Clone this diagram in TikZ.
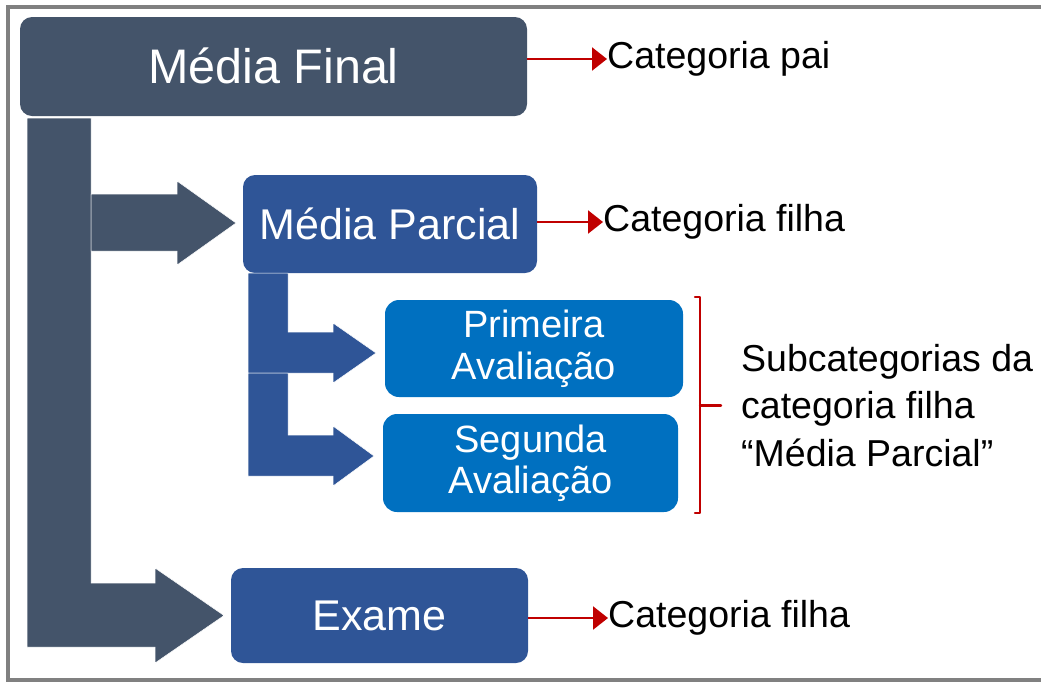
\documentclass[tikz,border=0pt]{standalone}
\usepackage{fontspec}
\setmainfont{Liberation Sans}
\usetikzlibrary{arrows.meta}
\definecolor{slate}{HTML}{44546A}
\definecolor{navy}{HTML}{2F5597}
\definecolor{sky}{HTML}{0070C0}
\definecolor{redc}{HTML}{C00000}
\definecolor{framegray}{HTML}{808080}
\tikzset{
  box/.style={rounded corners=12pt, text=white, inner sep=0pt, align=center},
  blockarrow/.style={draw=white, line width=0.5pt},
  redarr/.style={draw=redc, line width=2.4pt, -{Triangle[length=15pt,width=23pt]}},
  redline/.style={draw=redc, line width=2.4pt, line cap=round, line join=round},
  lbl/.style={inner sep=0pt, anchor=west, text=black, font=\fontsize{37.5}{47.5}\selectfont},
}
\begin{document}
\begin{tikzpicture}[x=1pt,y=-1pt]
\useasboundingbox (0,0) rectangle (1041,681);
% frame
\draw[framegray, line width=4pt] (1045,7) -- (8,7) -- (8,680) -- (1045,680);

% boxes
\node[box, fill=slate, minimum width=507pt, minimum height=99pt, font=\fontsize{48.5}{52}\selectfont] (mf) at (273.5,66.5) {\raisebox{2pt}{Média Final}};
\node[box, fill=navy, minimum width=294pt, minimum height=98pt, font=\fontsize{43}{46}\selectfont] (mp) at (390,224) {\raisebox{1pt}{Média Parcial}};
\node[box, fill=sky, rounded corners=14pt, minimum width=298pt, minimum height=97pt, font=\fontsize{38}{41.5}\selectfont] (pa) at (534,348.5) {Primeira\\Avaliação};
\node[box, fill=sky, rounded corners=14pt, minimum width=295pt, minimum height=98pt, font=\fontsize{38}{41.5}\selectfont] (sa) at (530.5,463) {Segunda\\Avaliação};
\node[box, fill=navy, minimum width=297pt, minimum height=95pt, font=\fontsize{43}{46}\selectfont] (ex) at (379.5,615.5) {Exame};

% block arrows (dark)
\fill[slate, blockarrow] (27,118) -- (91,118) -- (91,583) -- (155,583) -- (155,568) -- (224,615.5) -- (155,663) -- (155,647) -- (27,647) -- cycle;
\fill[slate, blockarrow] (91,194) -- (177,194) -- (177,181) -- (236,223) -- (177,265) -- (177,251) -- (91,251) -- cycle;
% block arrows (blue)
\fill[navy, blockarrow] (248,273) -- (288,273) -- (288,332) -- (333,332) -- (333,323) -- (376,353) -- (333,383) -- (333,373) -- (248,373) -- cycle;
\fill[navy, blockarrow] (248,373) -- (288,373) -- (288,435) -- (333,435) -- (333,426) -- (374,456) -- (333,486) -- (333,476) -- (248,476) -- cycle;

% labels
\node[lbl] (lpai) at (607,59) {Categoria pai};
\node[lbl] (lf1) at (603,222) {Categoria filha};
\node[lbl] (lf2) at (608,618) {Categoria filha};
\node[lbl, align=left] (lsub) at (741,405.5) {Subcategorias da\\categoria filha\\“Média Parcial”};

% red connectors
\draw[redarr] (mf.east |- lpai.west) -- (lpai.west);
\draw[redarr] (mp.east |- lf1.west) -- (lf1.west);
\draw[redarr] (ex.east |- lf2.west) -- (lf2.west);

% bracket
\coordinate (btop) at (700,297);
\coordinate (bbot) at (700,513);
\coordinate (bmid) at (700,405.5);
\draw[redline] ([xshift=-5pt]btop) -- (btop) -- (bbot) -- ([xshift=-5pt]bbot);
\draw[redline] (bmid) -- ([xshift=21pt]bmid);
\end{tikzpicture}
\end{document}
